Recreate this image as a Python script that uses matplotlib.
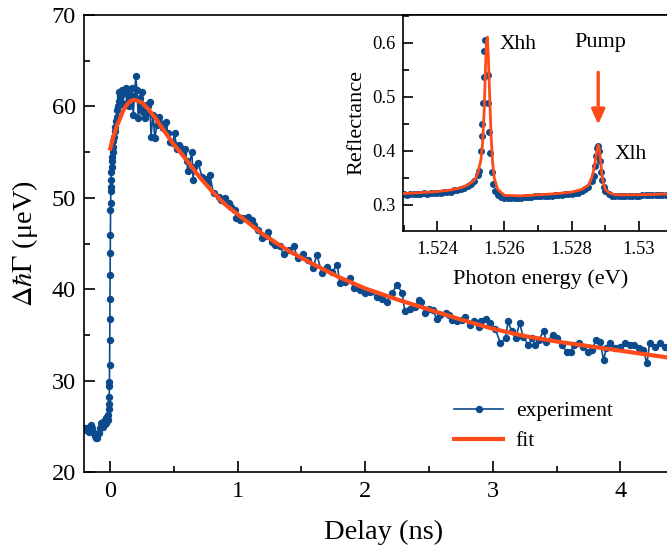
import matplotlib
matplotlib.use("Agg")
import matplotlib.pyplot as plt
from matplotlib.ticker import MultipleLocator, FixedLocator

plt.rcParams['font.family'] = ['Liberation Serif', 'DejaVu Serif']
plt.rcParams['mathtext.fontset'] = 'stix'

blue = '#0b4a8c'
orange = '#ff4a1a'

# main panel: delay (ns) vs linewidth change (ueV)
delay = [-0.20, -0.19, -0.18, -0.17, -0.16, -0.15, -0.14, -0.13, -0.12, -0.11,
         -0.10, -0.09, -0.08, -0.07, -0.06, -0.05, -0.04, -0.035, -0.03, -0.025,
         -0.02, -0.015, -0.012, -0.010, -0.008, -0.007, -0.006, -0.005, -0.004, -0.003,
         -0.002, -0.001, 0.000, 0.001, 0.002, 0.003, 0.004, 0.005, 0.006, 0.008,
         0.010, 0.012, 0.015, 0.018, 0.020, 0.025, 0.030, 0.035, 0.040, 0.045,
         0.050, 0.055, 0.060, 0.065, 0.070, 0.080, 0.090, 0.100, 0.110, 0.120,
         0.130, 0.140, 0.150, 0.160, 0.170, 0.180, 0.190, 0.200, 0.210, 0.220,
         0.230, 0.240, 0.250, 0.260, 0.270, 0.280, 0.290, 0.300, 0.310, 0.320,
         0.335, 0.350, 0.365, 0.380, 0.390, 0.410, 0.420, 0.440, 0.450, 0.470,
         0.490, 0.505, 0.520, 0.540, 0.550, 0.570, 0.590, 0.600, 0.610, 0.640,
         0.650, 0.660, 0.690, 0.720, 0.740, 0.770, 0.780, 0.810, 0.850, 0.870,
         0.900, 0.930, 0.950, 0.980, 0.990, 1.020, 1.040, 1.080, 1.110, 1.130,
         1.160, 1.190, 1.210, 1.240, 1.270, 1.290, 1.330, 1.360, 1.400, 1.440,
         1.470, 1.510, 1.550, 1.590, 1.620, 1.660, 1.700, 1.740, 1.780, 1.800,
         1.840, 1.880, 1.910, 1.960, 2.000, 2.040, 2.090, 2.130, 2.170, 2.210,
         2.250, 2.290, 2.310, 2.350, 2.390, 2.420, 2.440, 2.470, 2.500, 2.530,
         2.560, 2.590, 2.630, 2.660, 2.680, 2.720, 2.760, 2.780, 2.820, 2.850,
         2.890, 2.910, 2.950, 2.980, 3.020, 3.060, 3.100, 3.120, 3.150, 3.180,
         3.210, 3.240, 3.280, 3.310, 3.330, 3.360, 3.400, 3.420, 3.470, 3.500,
         3.540, 3.580, 3.610, 3.640, 3.680, 3.710, 3.750, 3.780, 3.810, 3.840,
         3.870, 3.890, 3.920, 3.960, 4.000, 4.040, 4.080, 4.110, 4.150, 4.180,
         4.210, 4.230, 4.270, 4.310, 4.350, 4.390]
gamma = [24.9, 24.6, 24.8, 24.4, 24.7, 25.2, 24.9, 24.3, 24.0, 23.8,
         23.7, 24.3, 24.9, 25.4, 25.0, 25.6, 25.3, 25.9, 25.4, 26.0,
         25.7, 26.3, 26.9, 27.5, 28.2, 29.4, 29.9, 31.7, 34.5, 36.8,
         39.0, 41.6, 44.0, 46.0, 48.7, 49.4, 50.8, 51.2, 52.0, 52.8,
         53.4, 54.0, 54.5, 55.0, 55.6, 56.2, 56.7, 57.3, 57.8, 58.4,
         58.9, 59.6, 60.0, 61.6, 60.6, 61.1, 61.8, 60.3, 61.5, 62.0,
         60.4, 61.6, 60.0, 61.2, 62.0, 59.1, 61.1, 63.3, 61.8, 58.7,
         60.9, 59.6, 61.6, 59.4, 58.7, 60.2, 59.3, 60.0, 60.5, 56.7,
         59.1, 56.5, 58.0, 58.9, 58.2, 57.6, 58.0, 58.3, 57.1, 56.1,
         56.0, 57.1, 55.4, 55.8, 55.6, 54.9, 55.4, 54.0, 52.9, 55.05,
         52.0, 53.4, 53.8, 52.3, 52.1, 51.6, 52.5, 50.5, 50.1, 49.8,
         50.0, 49.4, 49.0, 48.7, 47.8, 47.6, 47.8, 47.95, 47.6, 47.0,
         46.5, 45.6, 45.8, 46.3, 45.2, 44.85, 44.7, 43.9, 44.3, 44.7,
         43.4, 43.9, 43.2, 42.3, 43.8, 41.8, 42.5, 41.9, 42.7, 40.7,
         40.8, 41.2, 40.1, 39.9, 39.6, 39.75, 39.2, 39.0, 38.65, 39.6,
         40.5, 39.6, 37.6, 37.9, 38.1, 38.8, 38.65, 37.4, 37.9, 37.75,
         36.8, 37.2, 37.4, 37.2, 36.65, 36.5, 36.65, 37.0, 36.1, 36.5,
         35.9, 36.5, 36.8, 36.3, 35.7, 34.1, 34.65, 36.5, 35.4, 34.65,
         36.3, 34.8, 33.9, 34.65, 33.9, 34.5, 35.4, 34.3, 35.0, 34.65,
         33.9, 33.2, 33.2, 33.9, 34.1, 33.7, 33.2, 33.4, 34.5, 34.3,
         32.3, 33.6, 34.1, 33.6, 33.7, 34.1, 33.9, 33.9, 33.6, 33.4,
         31.9, 34.1, 33.7, 34.1, 33.7, 33.2]

fit_delay = [0.0, 0.025, 0.05, 0.077, 0.1, 0.125, 0.15, 0.175, 0.2, 0.25,
             0.3, 0.35, 0.4, 0.45, 0.5, 0.55, 0.6, 0.7, 0.8, 0.9,
             1.0, 1.1, 1.2, 1.4, 1.6, 1.8, 2.0, 2.25, 2.5, 2.75,
             3.0, 3.25, 3.5, 3.75, 4.0, 4.25, 4.5]
fit_gamma = [55.4, 56.7, 57.8, 58.7, 59.5, 60.1, 60.5, 60.7, 60.7, 60.4,
             59.7, 58.8, 57.8, 56.8, 55.8, 55.0, 54.1, 52.3, 50.7, 49.3,
             48.2, 47.1, 46.0, 44.2, 42.7, 41.3, 40.1, 38.9, 37.8, 36.7,
             35.7, 34.9, 34.3, 33.8, 33.3, 32.8, 32.3]

# inset: reflectance spectrum
energy = [1.5229, 1.5230, 1.5231, 1.5232, 1.5233, 1.5234, 1.5235, 1.5236, 1.5237, 1.5238,
          1.5239, 1.5240, 1.5241, 1.5242, 1.5243, 1.5244, 1.5245, 1.5246, 1.5247, 1.5248,
          1.5249, 1.5250, 1.5251, 1.5252, 1.52525, 1.5253, 1.52532, 1.52534, 1.52536, 1.52538,
          1.52540, 1.52542, 1.52550, 1.52552, 1.52555, 1.52558, 1.52562, 1.52566, 1.52572, 1.5258,
          1.5259, 1.5260, 1.5261, 1.5262, 1.5263, 1.5264, 1.5265, 1.5266, 1.5267, 1.5268,
          1.5269, 1.5270, 1.5271, 1.5272, 1.5273, 1.5274, 1.5275, 1.5276, 1.5277, 1.5278,
          1.5279, 1.5280, 1.5281, 1.5282, 1.5283, 1.5284, 1.5285, 1.5286, 1.52865, 1.5287,
          1.52873, 1.52876, 1.52879, 1.52882, 1.52885, 1.52888, 1.5289, 1.52895, 1.5290, 1.5291,
          1.5292, 1.5293, 1.5294, 1.5295, 1.5296, 1.5297, 1.5298, 1.5299, 1.5300, 1.5301,
          1.5302, 1.5303, 1.5304, 1.5305, 1.5306, 1.5307, 1.5308, 1.5309, 1.5310, 1.5311]
refl = [0.318, 0.319, 0.318, 0.319, 0.320, 0.319, 0.320, 0.321, 0.320, 0.321,
        0.322, 0.321, 0.322, 0.323, 0.323, 0.324, 0.326, 0.327, 0.329, 0.331,
        0.334, 0.338, 0.344, 0.354, 0.362, 0.400, 0.426, 0.450, 0.488, 0.537,
        0.585, 0.605, 0.540, 0.488, 0.435, 0.395, 0.360, 0.338, 0.325, 0.318,
        0.314, 0.313, 0.312, 0.312, 0.313, 0.313, 0.313, 0.314, 0.314, 0.314,
        0.315, 0.315, 0.315, 0.316, 0.316, 0.316, 0.317, 0.317, 0.318, 0.319,
        0.319, 0.320, 0.321, 0.322, 0.325, 0.328, 0.333, 0.343, 0.352, 0.372,
        0.390, 0.405, 0.408, 0.400, 0.380, 0.360, 0.345, 0.332, 0.325, 0.319,
        0.316, 0.315, 0.315, 0.315, 0.315, 0.316, 0.316, 0.316, 0.316, 0.317,
        0.317, 0.317, 0.317, 0.317, 0.318, 0.317, 0.318, 0.317, 0.318, 0.317]

fit_energy = [1.5229, 1.5235, 1.5240, 1.5244, 1.5247, 1.5249, 1.5251, 1.5252, 1.5253, 1.52535,
              1.5254, 1.52543, 1.52546, 1.52549, 1.52552, 1.52556, 1.5256, 1.52565, 1.5257, 1.5258,
              1.5260, 1.5265, 1.5270, 1.5275, 1.5280, 1.5283, 1.5285, 1.5286, 1.52865, 1.5287,
              1.52875, 1.52879, 1.52883, 1.52887, 1.5289, 1.52895, 1.5290, 1.5291, 1.5293, 1.5300,
              1.5311]
fit_refl = [0.320, 0.322, 0.324, 0.327, 0.331, 0.336, 0.345, 0.356, 0.383, 0.415,
            0.480, 0.545, 0.598, 0.610, 0.575, 0.500, 0.430, 0.375, 0.348, 0.328,
            0.317, 0.316, 0.318, 0.320, 0.323, 0.328, 0.336, 0.350, 0.362, 0.380,
            0.400, 0.410, 0.400, 0.375, 0.355, 0.338, 0.328, 0.322, 0.318, 0.318,
            0.320]

fig = plt.figure(figsize=(6.67, 5.48), dpi=100)
ax = fig.add_axes([0.1259, 0.1381, 0.8996, 0.8345])

ax.plot(delay, gamma, '-o', color=blue, lw=1.2, ms=4.3, label='experiment', zorder=2)
ax.plot(fit_delay, fit_gamma, '-', color=orange, lw=3.0, label='fit', zorder=3)

ax.set_xlim(-0.206, 4.5)
ax.set_ylim(20, 70)
ax.xaxis.set_major_locator(MultipleLocator(1))
ax.xaxis.set_minor_locator(MultipleLocator(0.5))
ax.yaxis.set_major_locator(MultipleLocator(10))
ax.yaxis.set_minor_locator(MultipleLocator(5))
ax.tick_params(which='both', direction='in', top=False, right=False, width=1.2,
               labelsize=17.5, pad=6)
ax.tick_params(which='major', length=8)
ax.tick_params(which='minor', length=4.5)
for s in ax.spines.values():
    s.set_linewidth(1.2)
ax.set_xlabel('Delay (ns)', fontsize=20.5, labelpad=13)
ax.set_ylabel(r'$\mathit{\Delta}\hbar\Gamma$ (μeV)', fontsize=20.5, labelpad=8)

leg = ax.legend(loc='upper left', bbox_to_anchor=(0.603, 0.174), frameon=False,
                fontsize=15.5, handlelength=2.25, handletextpad=0.6, labelspacing=0.45,
                borderaxespad=0)

# inset
ins = fig.add_axes([0.6037, 0.5785, 0.4146, 0.3941])
ins.plot(energy, refl, 'o', color=blue, ms=4.0, zorder=2)
ins.plot(fit_energy, fit_refl, '-', color=orange, lw=2.0, zorder=3)
ins.set_xlim(1.52297, 1.5312)
ins.set_ylim(0.251, 0.651)
ins.xaxis.set_major_locator(FixedLocator([1.524, 1.526, 1.528, 1.530]))
ins.set_xticklabels(['1.524', '1.526', '1.528', '1.53'])
ins.xaxis.set_minor_locator(MultipleLocator(0.001))
ins.yaxis.set_major_locator(MultipleLocator(0.1))
ins.yaxis.set_minor_locator(MultipleLocator(0.05))
ins.tick_params(which='both', direction='in', top=False, right=False, width=1.2,
                labelsize=13.3)
ins.tick_params(axis='x', pad=7)
ins.tick_params(axis='y', pad=5)
ins.tick_params(which='major', length=7.5)
ins.tick_params(which='minor', length=4)
for s in ins.spines.values():
    s.set_linewidth(1.2)
ins.set_xlabel('Photon energy (eV)', fontsize=16, labelpad=8)
ins.set_ylabel('Reflectance', fontsize=16, labelpad=4)

ins.text(1.52584, 0.596, 'Xhh', fontsize=15.5, va='center', ha='left')
ins.text(1.52809, 0.600, 'Pump', fontsize=16, va='center', ha='left')
ins.text(1.52928, 0.392, 'Xlh', fontsize=15.5, va='center', ha='left')
ins.annotate('', xy=(1.52879, 0.448), xytext=(1.52879, 0.545),
             arrowprops=dict(arrowstyle='-|>,head_width=0.4,head_length=0.9',
                             color=orange, lw=2.4, shrinkA=0, shrinkB=0))

fig.savefig('out.png', dpi=100)
